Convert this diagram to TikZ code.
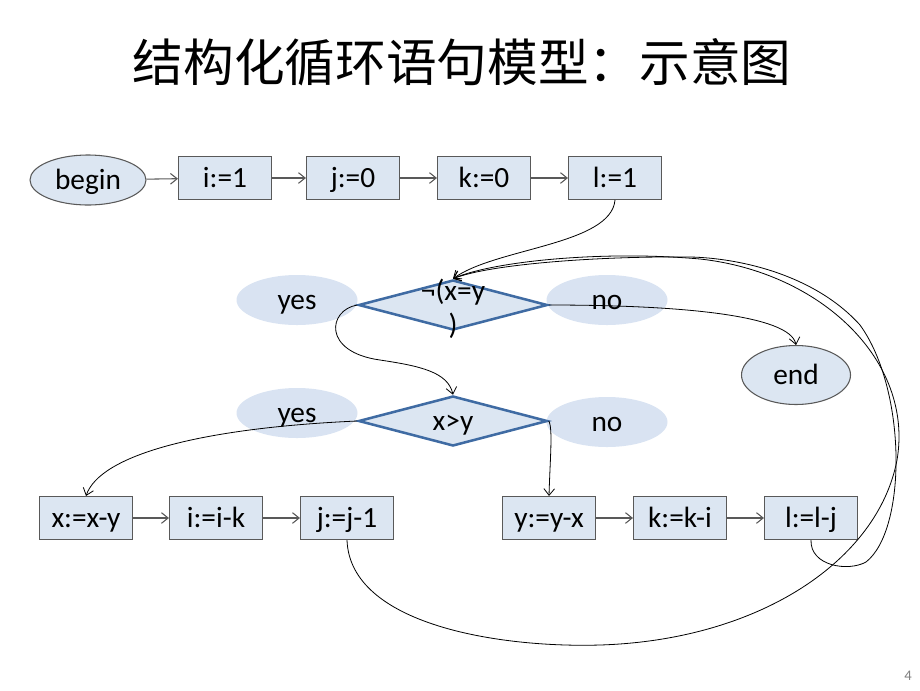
\documentclass[tikz,border=0pt]{standalone}
\usepackage{fontspec}
\setmainfont{Carlito}
\newfontfamily\cjk{Noto Sans CJK SC}
\usetikzlibrary{shapes.geometric,arrows.meta}
\definecolor{boxfill}{HTML}{DCE6F2}
\definecolor{ellfill}{HTML}{D9E3F2}
\definecolor{boxline}{HTML}{595959}
\definecolor{diaLine}{HTML}{3F6BA3}
\newcommand{\bodyfont}{\fontsize{22}{25.5}\selectfont}
\tikzset{
  box/.style={draw=boxline, fill=boxfill, line width=0.8pt, minimum width=69.75pt, minimum height=32.25pt, inner sep=0pt, font=\bodyfont, text height=17pt, text depth=3pt},
  term/.style={ellipse, draw=boxline, fill=boxfill, line width=0.8pt, inner sep=0pt, font=\bodyfont, text height=17pt, text depth=3pt},
  lab/.style={ellipse, fill=ellfill, minimum width=90.75pt, minimum height=37.5pt, inner sep=0pt, font=\bodyfont, text height=17pt, text depth=3pt},
  dia/.style={diamond, draw=diaLine, fill=boxfill, line width=1.9pt, inner sep=0pt, minimum width=141.75pt, minimum height=37.5pt},
  txt/.style={font=\bodyfont, inner sep=0pt, align=center},
  flow/.style={draw=boxline, line width=0.8pt, -{Straight Barb[length=5pt,width=8pt]}},
  link/.style={draw=black, line width=0.6pt, -{Straight Barb[length=5pt,width=8pt]}}
}
\begin{document}
\begin{tikzpicture}[x=0.75pt,y=-0.75pt]
\useasboundingbox (0,0) rectangle (920,690);
\node[font=\cjk\fontsize{38}{40}\selectfont, inner sep=0pt] (title) at (462,62) {结构化循环语句模型：示意图};

% top row
\node[term, minimum width=87pt, minimum height=37.5pt] (begin) at (88,180) {begin};
\node[box] (i1) at (225,178) {i:=1};
\node[box] (j0) at (353,178) {j:=0};
\node[box] (k0) at (484,178) {k:=0};
\node[box] (l1) at (615,178) {l:=1};

% labels
\node[lab] (yes1) at (297,300) {yes};
\node[lab] (no1) at (607,300) {no};
\node[lab] (yes2) at (297,413) {};
\node[lab] (no2) at (607,422) {no};

% diamonds
\node[dia] (d1) at (453,305) {};
\node[txt] (d1t) at (453,309) {¬(x=y\\)};
\node[dia] (d2) at (453,421) {};
\node[txt, text height=17pt, text depth=3pt] (d2t) at (453,421) {x>y};

\node[term, minimum width=81.75pt, minimum height=44.25pt] (end) at (796,375) {end};

% bottom row
\node[box] (x1) at (86,518) {x:=x-y};
\node[box] (i2) at (216,518) {i:=i-k};
\node[box] (j1) at (347,518) {j:=j-1};
\node[box] (y1) at (549,518) {y:=y-x};
\node[box] (k1) at (680,518) {k:=k-i};
\node[box] (l2) at (811,518) {l:=l-j};

% straight flows
\draw[flow] (begin) -- (i1);
\draw[flow] (i1) -- (j0);
\draw[flow] (j0) -- (k0);
\draw[flow] (k0) -- (l1);
\draw[flow] (x1) -- (i2);
\draw[flow] (i2) -- (j1);
\draw[flow] (y1) -- (k1);
\draw[flow] (k1) -- (l2);

% curved links
\draw[link] (l1.south) .. controls (611,245) and (495,248) .. (d1.north);
\draw[link] (d1.west) .. controls (328,310) and (322,352) .. (380,360) .. controls (420,366) and (448,372) .. (d2.north);
\draw[link] (d1.east) .. controls (680,305) and (790,315) .. (end.north);
\draw[link] (d2.west) .. controls (200,428) and (100,455) .. (x1.north);
\draw[link] (d2.east) .. controls (553,428) and (550,460) .. (y1.north);
\draw[link] (j1.south) .. controls (350,625) and (500,648) .. (600,645) .. controls (760,640) and (878,560) .. (897,460) .. controls (914,360) and (820,272) .. (700,259) .. controls (600,250) and (490,262) .. (d1.north);
\draw[link] (l2.south) .. controls (810,566) and (848,572) .. (866,562) .. controls (907,530) and (907,390) .. (860,325) .. controls (815,275) and (740,258) .. (690,257) .. controls (600,256) and (490,264) .. (d1.north);

\node[txt, font=\fontsize{11}{12}\selectfont, text=gray] (pg) at (908,676) {4};
% yes label text drawn over link line
\node[txt, text height=17pt, text depth=3pt] (yes2t) at (297,413) {yes};
\end{tikzpicture}
\end{document}
